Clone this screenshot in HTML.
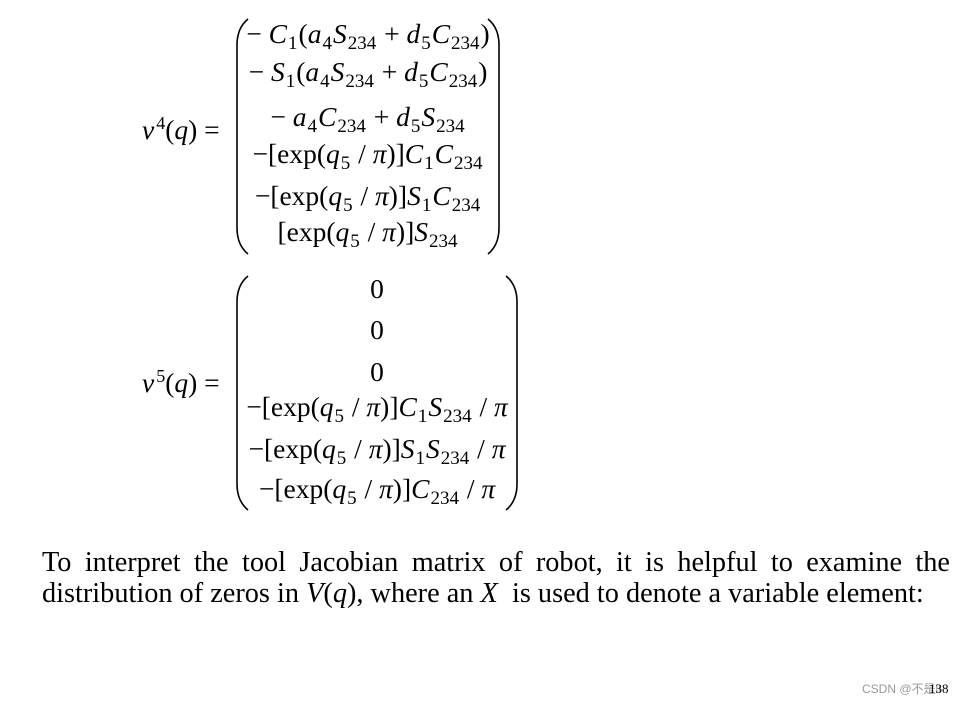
<!DOCTYPE html>
<html><head><meta charset="utf-8"><style>
body{margin:0;width:967px;height:704px;background:#fff;position:relative;overflow:hidden;font-family:"Liberation Serif",serif;color:#000}
.r{position:absolute;font-size:27.5px;line-height:30px;white-space:nowrap;text-align:center}
i{font-style:italic}
sub{font-size:19px;vertical-align:-6px;line-height:0;margin:0 1px}
sup{font-size:18px;vertical-align:10px;line-height:0;margin-left:2px}
.p{position:absolute;left:42px;width:908px;font-size:28.3px;line-height:30px;text-align:justify;text-align-last:justify;white-space:nowrap}
</style></head><body>
<svg width="967" height="704" style="position:absolute;left:0;top:0" fill="none" stroke="#000" stroke-width="1.6">
<path d="M248 19 Q237 28 237 45 L237 228 Q237 245 248 254"/>
<path d="M488 19 Q499 28 499 45 L499 228 Q499 245 488 254"/>
<path d="M248 276 Q237 285 237 302 L237 484 Q237 501 248 510"/>
<path d="M506 276 Q517 285 517 302 L517 484 Q517 501 506 510"/>
</svg>
<div class="r" style="left:142px;top:115px;text-align:left"><i>v</i><sup>4</sup>(<i>q</i>) =</div>
<div class="r" style="left:142px;top:368px;text-align:left"><i>v</i><sup>5</sup>(<i>q</i>) =</div>

<div class="r" style="left:240px;width:256px;top:19px">− <i>C</i><sub>1</sub>(<i>a</i><sub>4</sub><i>S</i><sub>234</sub> + <i>d</i><sub>5</sub><i>C</i><sub>234</sub>)</div>
<div class="r" style="left:240px;width:256px;top:57px">− <i>S</i><sub>1</sub>(<i>a</i><sub>4</sub><i>S</i><sub>234</sub> + <i>d</i><sub>5</sub><i>C</i><sub>234</sub>)</div>
<div class="r" style="left:240px;width:256px;top:102px">− <i>a</i><sub>4</sub><i>C</i><sub>234</sub> + <i>d</i><sub>5</sub><i>S</i><sub>234</sub></div>
<div class="r" style="left:240px;width:256px;top:139px">−[exp(<i>q</i><sub>5</sub> / <i>π</i>)]<i>C</i><sub>1</sub><i>C</i><sub>234</sub></div>
<div class="r" style="left:240px;width:256px;top:181px">−[exp(<i>q</i><sub>5</sub> / <i>π</i>)]<i>S</i><sub>1</sub><i>C</i><sub>234</sub></div>
<div class="r" style="left:240px;width:256px;top:217px">[exp(<i>q</i><sub>5</sub> / <i>π</i>)]<i>S</i><sub>234</sub></div>

<div class="r" style="left:240px;width:274px;top:274px">0</div>
<div class="r" style="left:240px;width:274px;top:315px">0</div>
<div class="r" style="left:240px;width:274px;top:357px">0</div>
<div class="r" style="left:240px;width:274px;top:392px">−[exp(<i>q</i><sub>5</sub> / <i>π</i>)]<i>C</i><sub>1</sub><i>S</i><sub>234</sub> / <i>π</i></div>
<div class="r" style="left:240px;width:274px;top:434px">−[exp(<i>q</i><sub>5</sub> / <i>π</i>)]<i>S</i><sub>1</sub><i>S</i><sub>234</sub> / <i>π</i></div>
<div class="r" style="left:240px;width:274px;top:474px">−[exp(<i>q</i><sub>5</sub> / <i>π</i>)]<i>C</i><sub>234</sub> / <i>π</i></div>

<div class="p" style="top:548px">To interpret the tool Jacobian matrix of robot, it is helpful to examine the</div>
<div class="p" style="top:579px;width:auto;text-align:left;text-align-last:left">distribution of zeros in <i>V</i>(<i>q</i>), where an <i>X</i> &nbsp;is used to denote a variable element:</div>

<div style="position:absolute;left:862px;top:680px;font-family:'Liberation Sans','Noto Sans CJK SC',sans-serif;font-size:12px;color:#999">CSDN @不是lI</div>
<div style="position:absolute;left:929px;top:681px;font-size:13px;color:#000">138</div>
</body></html>
